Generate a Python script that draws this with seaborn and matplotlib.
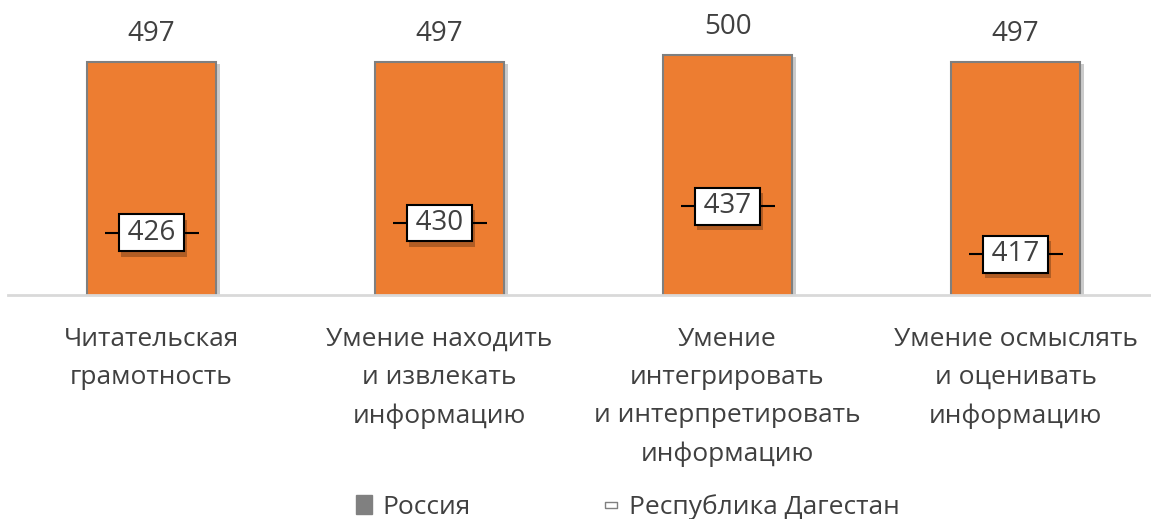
import matplotlib
matplotlib.use("Agg")
import matplotlib.pyplot as plt
import matplotlib.patheffects as pe
from matplotlib.lines import Line2D
from matplotlib.patches import Patch
import seaborn as sns
import pandas as pd

categories = ["Читательская\nграмотность",
              "Умение находить\nи извлекать\nинформацию",
              "Умение\nинтегрировать\nи интерпретировать\nинформацию",
              "Умение осмыслять\nи оценивать\nинформацию"]
russia = [497, 497, 500, 497]
dagestan = [426, 430, 437, 417]
series_names = ["Россия", "Республика Дагестан"]

sns.set_theme(style="white")
plt.rcParams['font.family'] = ['Open Sans', 'DejaVu Sans']
TXT = "#404040"
FW = 400

fig = plt.figure(figsize=(11.51, 5.19), dpi=100)
ax = fig.add_axes([7.5 / 1151, 1 - 295 / 519, 1152 / 1151, 295 / 519])

df = pd.DataFrame({"cat": categories, "ru": russia, "dg": dagestan})
sns.barplot(data=df, x="cat", y="ru", color="#ED7D31", saturation=1,
            width=0.45, edgecolor="#7F7F7F", linewidth=1.5, ax=ax)
for p in ax.patches:
    p.set_path_effects([pe.SimplePatchShadow(offset=(3, -1), shadow_rgbFace="#7F7F7F", alpha=0.4),
                        pe.Normal()])

for i, v in enumerate(russia):
    ax.annotate(f"{v}", (i, v), xytext=(0, 10), textcoords="offset points",
                ha="center", va="bottom", fontsize=20, color=TXT, fontweight=FW)

sns.scatterplot(x=list(range(len(dagestan))), y=dagestan, marker="_", s=68 ** 2,
                color="black", linewidth=1.5, ax=ax, zorder=4, legend=False)
for i, v in enumerate(dagestan):
    t = ax.text(i, v, f"\u2009{v}\u2009", ha="center", va="center", fontsize=20, color=TXT,
                zorder=5, fontweight=FW,
                bbox=dict(boxstyle="square,pad=0.16", fc="white", ec="black", lw=1.5))
    t.get_bbox_patch().set_path_effects([pe.SimplePatchShadow(offset=(2, -4), shadow_rgbFace="#000000", alpha=0.25),
                                         pe.Normal()])

ax.set_ylim(400, 523)
ax.set_xlim(-0.5, 3.5)
ax.set_xlabel("")
ax.set_ylabel("")
ax.set_yticks([])
ax.tick_params(axis="x", length=0, pad=23, labelsize=19, labelcolor=TXT)
for lab in ax.get_xticklabels():
    lab.set_linespacing(1.68)
    lab.set_verticalalignment("top")
    lab.set_fontweight(FW)
for s in ["top", "left", "right"]:
    ax.spines[s].set_visible(False)
ax.spines["bottom"].set_color("#D9D9D9")
ax.spines["bottom"].set_linewidth(2)

rect_marker = [(-1, -0.45), (1, -0.45), (1, 0.45), (-1, 0.45), (-1, -0.45)]
handles = [Patch(facecolor="#808080", edgecolor="#808080", label=series_names[0]),
           Line2D([], [], marker=rect_marker, markersize=9, markerfacecolor="white",
                  markeredgecolor="#808080", markeredgewidth=1, linestyle="none",
                  label=series_names[1])]
leg = fig.legend(handles=handles, loc="center", bbox_to_anchor=(628 / 1151, 1 - 507 / 519),
                 ncol=2, frameon=False, fontsize=19, labelcolor=TXT, columnspacing=5.0,
                 handlelength=0.6, handletextpad=0.4)
for t in leg.get_texts():
    t.set_fontweight(FW)

fig.savefig("out.png", dpi=100)
